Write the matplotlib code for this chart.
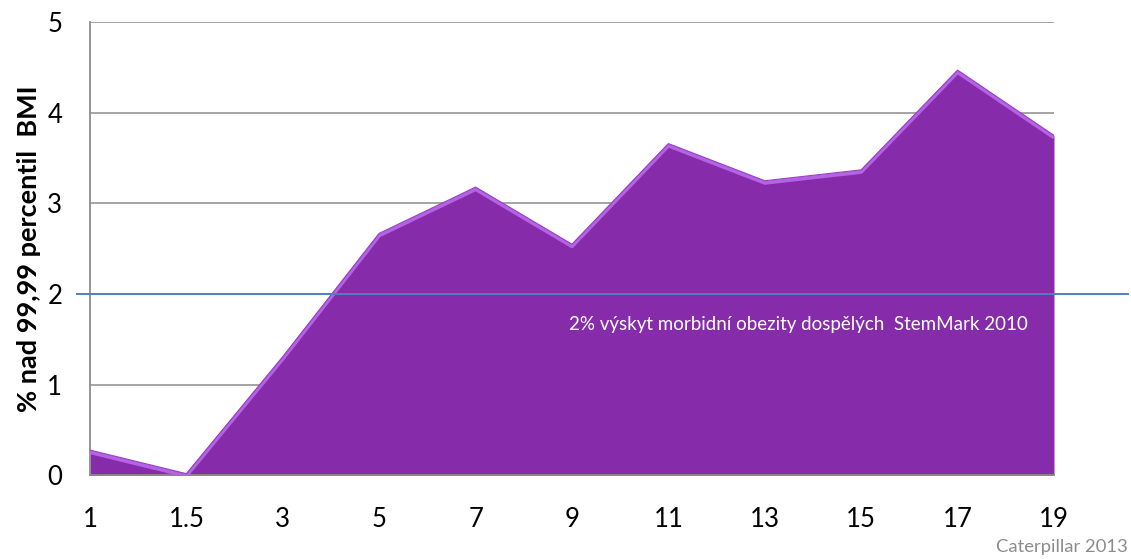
import matplotlib
matplotlib.use('Agg')
import matplotlib.pyplot as plt
import matplotlib.transforms as mtransforms
import numpy as np

plt.rcParams['font.family'] = ['Lato', 'DejaVu Sans']

# age groups (years) and share above the 99.99 BMI percentile
ages = ['1', '1.5', '3', '5', '7', '9', '11', '13', '15', '17', '19']
share = [0.28, 0.02, 1.31, 2.67, 3.18, 2.55, 3.66, 3.25, 3.37, 4.47, 3.75]
adult_level = 2.0
ref_text = '2% výskyt morbidní obezity dospělých  StemMark 2010'
credit = 'Caterpillar 2013'

fig = plt.figure(figsize=(11.31, 5.59), dpi=100)
ax = fig.add_axes([0.0796, 0.1494, 0.8523, 0.8112])

x = np.arange(len(ages))
ax.fill_between(x, 0, share, color='#862CAB', lw=0, zorder=2)
# light bevel along the top edge
bevel = mtransforms.offset_copy(ax.transData, fig=fig, x=0, y=-1.6, units='points')
ax.plot(x, share, color='#B463E4', lw=2.6, transform=bevel, zorder=3,
        solid_joinstyle='round', solid_capstyle='butt')
ax.plot(x, share, color='#9A3FC6', lw=0.8, zorder=3)

ax.set_xlim(0, len(ages) - 1)
ax.set_ylim(0, 5)
ax.set_xticks(x)
ax.set_xticklabels(ages)
ax.set_yticks([0, 1, 2, 3, 4, 5])
ax.yaxis.grid(True, color='#8C8C8C', lw=1.1, zorder=1)
ax.set_axisbelow(True)
for s in ['top', 'right']:
    ax.spines[s].set_visible(False)
for s in ['left', 'bottom']:
    ax.spines[s].set_color('#8C8C8C')
    ax.spines[s].set_linewidth(1.3)
ax.tick_params(length=0, labelsize=18.5)
ax.tick_params(axis='x', pad=23)
ax.tick_params(axis='y', pad=20)

ax.set_ylabel('% nad 99,99 percentil  BMI', fontsize=19.5, fontweight='bold')
ax.yaxis.set_label_coords(-0.051, 0.50)

ax.axhline(adult_level, xmin=-0.0135, xmax=1.077, color='#4F81BD', lw=1.4,
           clip_on=False, zorder=4)
ax.text(7.35, 1.66, ref_text, color='white', fontsize=13.5, ha='center', va='center', zorder=5)

fig.text(0.997, 0.022, credit, color='#8C8C8C', fontsize=13.3, ha='right', va='center')

fig.savefig('out.png', dpi=100)
